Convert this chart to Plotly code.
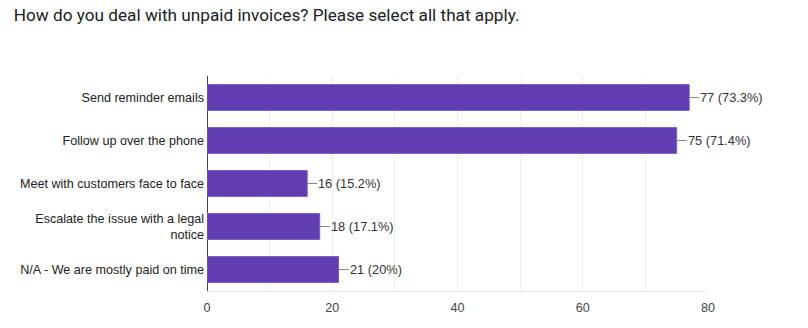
import plotly.graph_objects as go

categories = [
    "Send reminder emails",
    "Follow up over the phone",
    "Meet with customers face to face",
    "Escalate the issue with a legal<br>notice",
    "N/A - We are mostly paid on time",
]
counts = [77, 75, 16, 18, 21]
percents = ["73.3%", "71.4%", "15.2%", "17.1%", "20%"]
x_ticks = [0, 20, 40, 60, 80]

bar_color = "#623db2"

fig = go.Figure()
fig.add_trace(go.Bar(
    x=counts, y=categories, orientation="h",
    marker=dict(color=bar_color, line=dict(color="#7a5cc4", width=1)),
    width=0.6, hoverinfo="skip",
))

for c, cat, p in zip(counts, categories, percents):
    fig.add_annotation(
        x=c, y=cat, xref="x", yref="y",
        text=f"{c} ({p})", showarrow=True, arrowhead=0, arrowwidth=1,
        arrowcolor="#888", ax=10, ay=0, xanchor="left",
        font=dict(family="Liberation Sans, Arial", size=12.8, color="#333"),
        standoff=0, startstandoff=0, borderpad=0,
    )

fig.update_layout(
    width=808, height=328,
    margin=dict(l=207, r=100, t=76, b=37),
    paper_bgcolor="white", plot_bgcolor="white",
    title=dict(
        text="How do you deal with unpaid invoices? Please select all that apply.",
        x=0.017, xanchor="left", y=0.955, yanchor="middle",
        font=dict(family="Roboto, Open Sans, sans-serif", size=17.2, color="#202124"),
    ),
    showlegend=False,
)
fig.update_xaxes(
    range=[0, 80], tickvals=x_ticks, ticktext=[str(t) for t in x_ticks],
    showgrid=True, gridcolor="#ebebeb", gridwidth=1,
    minor=dict(dtick=10, tick0=0, showgrid=True, gridcolor="#f0f0f0"),
    showline=True, linecolor="#ebebeb", linewidth=1,
    zeroline=True, zerolinecolor="#444", zerolinewidth=1,
    tickfont=dict(family="Liberation Sans, Arial", size=12.6, color="#444"),
    ticks="", ticklabelstandoff=5, fixedrange=True,
)
fig.update_yaxes(
    autorange="reversed", showgrid=False, ticks="",
    tickfont=dict(family="Liberation Sans, Arial", size=12.6, color="#222"),
    ticklabelstandoff=2, fixedrange=True,
)

fig.write_html("out.html")
